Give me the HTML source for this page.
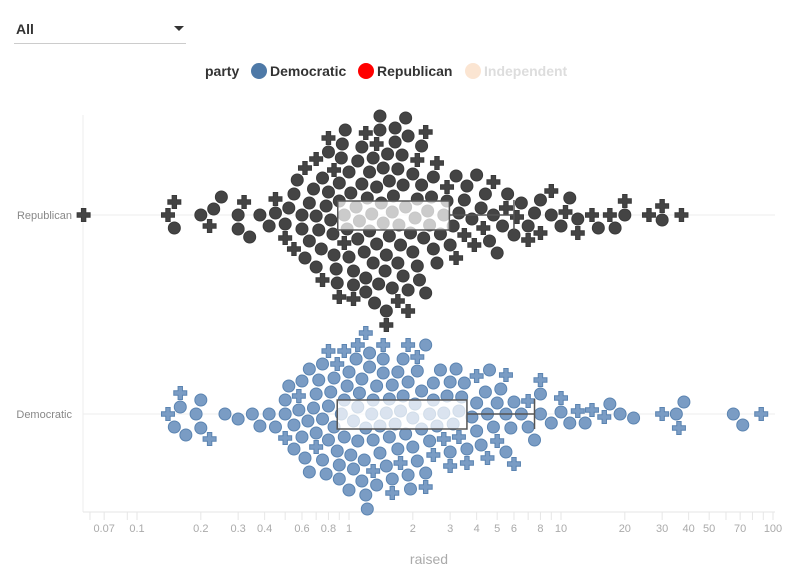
<!DOCTYPE html>
<html><head><meta charset="utf-8">
<style>
body{margin:0;background:#fff;font-family:"Liberation Sans",sans-serif;}
#wrap{position:relative;width:796px;height:575px;overflow:hidden}
.sel{position:absolute;left:14px;top:14px;width:172px;height:29px;border-bottom:1px solid #ccc;font-weight:bold;font-size:14px;color:#333}
.sel span{position:absolute;left:2px;top:7px}
.sel i{position:absolute;right:2px;top:12px;width:0;height:0;border-left:5px solid transparent;border-right:5px solid transparent;border-top:5px solid #333}
</style></head><body>
<div id="wrap">
<div class="sel"><span>All</span><i></i></div>
<svg id="svg" width="796" height="575" style="position:absolute;left:0;top:0">
<g font-size="14" font-weight="bold">
<text x="205" y="76" fill="#333">party</text>
<g><circle cx="259" cy="71" r="8" fill="#4e79a7"/><text x="270" y="76" fill="#333">Democratic</text></g>
<g><circle cx="366" cy="71" r="8" fill="#ff0000"/><text x="377" y="76" fill="#333">Republican</text></g>
<g><circle cx="473" cy="71" r="8" fill="#fbe5d2"/><text x="484" y="76" fill="#ddd">Independent</text></g>
</g>
<g id="plot"></g>
</svg>
</div>
<script>
const categories=["Republican","Democratic"];
const tickValues=[0.07,0.1,0.2,0.3,0.4,0.6,0.8,1,2,3,4,5,6,8,10,20,30,40,50,70,100];
const minorTicks=[0.06,0.09,0.5,0.7,0.9,7,9,60,80,90];
const repCircle=[0.15,0.2,0.23,0.25,0.3,0.3,0.34,0.38,0.42,0.45,0.5,0.52,0.55,0.57,0.6,0.6,0.62,0.65,0.65,0.68,0.7,0.7,0.72,0.74,0.75,0.78,0.8,0.8,0.82,0.84,0.85,0.87,0.88,0.9,0.9,0.92,0.93,0.95,0.96,0.98,1,1,1.02,1.05,1.05,1.08,1.1,1.1,1.12,1.15,1.15,1.18,1.2,1.2,1.22,1.25,1.25,1.28,1.3,1.3,1.32,1.35,1.35,1.38,1.4,1.4,1.42,1.45,1.45,1.48,1.5,1.5,1.52,1.55,1.55,1.6,1.6,1.62,1.65,1.65,1.7,1.7,1.72,1.75,1.78,1.8,1.8,1.85,1.85,1.9,1.9,1.95,2,2,2.05,2.1,2.1,2.15,2.2,2.2,2.25,2.3,2.35,2.4,2.45,2.5,2.5,2.6,2.7,2.8,2.9,3,3.1,3.2,3.3,3.5,3.6,3.8,4,4.2,4.4,4.6,4.8,5,5.3,5.6,6,6.5,7,7.5,8,9,10,11,12,15,18,20,30];
const repCross=[0.056,0.14,0.15,0.22,0.32,0.45,0.5,0.55,0.62,0.7,0.75,0.8,0.85,0.9,0.95,1.05,1.2,1.35,1.5,1.7,1.9,2.1,2.3,2.6,2.9,3.2,3.5,3.9,4.3,4.8,5.5,6.2,7,8,9,10.5,12,14,17,20,26,30,37];
const demCircle=[0.15,0.16,0.17,0.19,0.2,0.2,0.26,0.3,0.35,0.38,0.42,0.45,0.5,0.5,0.52,0.55,0.55,0.58,0.6,0.6,0.62,0.64,0.65,0.68,0.7,0.7,0.72,0.75,0.75,0.78,0.8,0.8,0.82,0.85,0.85,0.88,0.9,0.9,0.92,0.95,0.95,0.98,1,1,1.02,1.05,1.05,1.08,1.1,1.1,1.12,1.15,1.15,1.18,1.2,1.2,1.22,1.25,1.25,1.28,1.3,1.3,1.35,1.35,1.4,1.4,1.45,1.45,1.5,1.5,1.55,1.55,1.6,1.6,1.65,1.7,1.7,1.75,1.8,1.8,1.85,1.9,1.9,1.95,2,2,2.05,2.1,2.1,2.2,2.2,2.3,2.3,2.4,2.4,2.5,2.5,2.6,2.7,2.8,2.9,3,3,3.1,3.2,3.3,3.4,3.5,3.6,3.8,4,4,4.2,4.4,4.6,4.8,5,5.2,5.5,5.8,6,6.5,7,7.5,8,8,9,10,11,13,17,19,22,35,38,65,72,0.65,0.75,4.5,5.5];
const demCross=[0.14,0.16,0.22,0.5,0.58,0.7,0.8,0.88,0.95,1.1,1.2,1.3,1.45,1.6,1.75,1.9,2.1,2.3,2.5,2.8,3,3.3,3.6,4,4.5,5,5.5,6,7,8,10,12,14,16,30,36,88];

const NS="http://www.w3.org/2000/svg";
const plot=document.getElementById('plot');
const X0=349,DEC=212;
function xs(v){return X0+Math.log10(v)*DEC;}
const catY={Republican:215,Democratic:414};
function mk(tag,attrs,parent){const e=document.createElementNS(NS,tag);for(const k in attrs)e.setAttribute(k,attrs[k]);(parent||plot).appendChild(e);return e;}

const grid=mk('g',{});


categories.forEach(c=>{
  const l=mk('line',{x1:83,x2:775,y1:catY[c],y2:catY[c],stroke:'#eee'},grid);
  
  
  const t=mk('text',{x:72,y:catY[c]+4,'text-anchor':'end','font-size':11,fill:'#888'});
  t.textContent=c;
  
  
});
const yaxis=mk('line',{x1:83,x2:83,y1:115,y2:512,stroke:'#eee'});


const xaxis=mk('line',{x1:83,x2:775,y1:512,y2:512,stroke:'#e6e6e6'});


tickValues.concat(minorTicks).forEach(v=>{
  const tk=mk('line',{x1:xs(v),x2:xs(v),y1:512,y2:520,stroke:'#e6e6e6'});
  
  
});
tickValues.forEach(v=>{
  const t=mk('text',{x:xs(v),y:532,'text-anchor':'middle','font-size':11,fill:'#aaa'});
  t.textContent=String(v);
  
  
});
const xt=mk('text',{x:429,y:564,'text-anchor':'middle','font-size':14,fill:'#aaa'});
xt.textContent='raised';



const R=6,D=14;
function swarm(pts,cy){
  pts.sort((a,b)=>a.v-b.v);
  const placed=[];
  pts.forEach(p=>{
    const x=xs(p.v);
    let best=0;
    for(let k=0;k<400;k++){
      const dy=(k%2?1:-1)*Math.ceil(k/2);
      let ok=true;
      for(const q of placed){const dx=q.x-x;if(Math.abs(dx)<D){const d2=dx*dx+(q.y-(cy+dy))**2;if(d2<D*D){ok=false;break;}}}
      if(ok){best=dy;break;}
    }
    p.x=x;p.y=cy+best;placed.push(p);
  });
  return placed;
}
function plus(x,y){const a=6.5,b=2.2;return `M${x-b},${y-a}h${2*b}v${a-b}h${a-b}v${2*b}h${-(a-b)}v${a-b}h${-2*b}v${-(a-b)}h${-(a-b)}v${-2*b}h${a-b}z`;}
function quant(arr,q){const s=arr.slice().sort((a,b)=>a-b);const p=(s.length-1)*q,i=Math.floor(p);return s[i]+(s[Math.min(i+1,s.length-1)]-s[i])*(p-i);}

function drawParty(name,circ,cross,fill,stroke){
  const cy=catY[name];
  const g=mk('g',{});
  
  
  const pts=circ.map(v=>({v,s:'c'})).concat(cross.map(v=>({v,s:'p'})));
  swarm(pts,cy).forEach(p=>{
    let e;
    if(p.s==='c')e=mk('circle',{cx:p.x,cy:p.y,r:R,fill:fill,stroke:stroke,'stroke-width':1},g);
    else e=mk('path',{d:plus(p.x,p.y),fill:fill,stroke:stroke,'stroke-width':1},g);
    
    
  });
  const all=circ.concat(cross);
  const q1=quant(all,0.25),q3=quant(all,0.75);
  const iqr=q3-q1;
  const hi=Math.max(...all.filter(v=>v<=q3+1.5*iqr));
  const bg=mk('g',{});
  
  
  mk('line',{x1:xs(q3),x2:xs(hi),y1:cy,y2:cy,stroke:'#555','stroke-width':1.5},bg);
  mk('line',{x1:xs(hi),x2:xs(hi),y1:cy-15,y2:cy+15,stroke:'#555','stroke-width':1.5},bg);
  mk('rect',{x:xs(q1),y:cy-14,width:xs(q3)-xs(q1),height:29,fill:'#fff','fill-opacity':0.72,stroke:'#555','stroke-width':1.5},bg);
}
drawParty('Republican',repCircle,repCross,'#444','#3a3a3a');
drawParty('Democratic',demCircle,demCross,'#7a9cc4','#5b84b1');
</script>
</body></html>
